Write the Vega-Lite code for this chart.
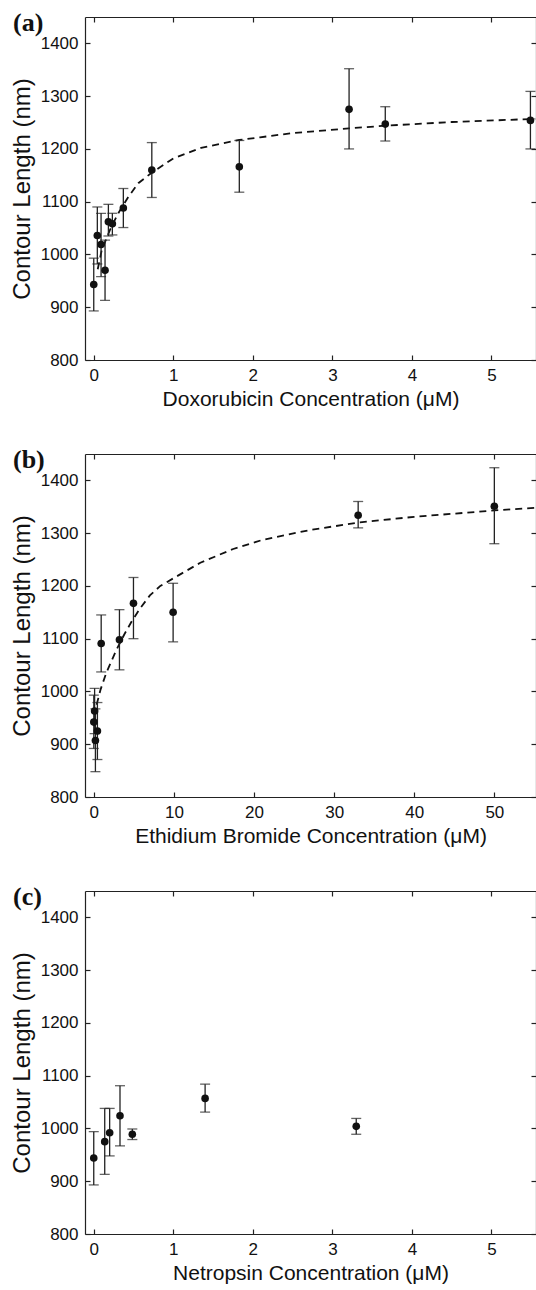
{
  "$schema": "https://vega.github.io/schema/vega-lite/v6.json",
  "background": "white",
  "padding": {"left": 10, "top": 10, "right": 1, "bottom": 5},
  "spacing": 94,
  "bounds": "flush",
  "config": {
    "view": {"stroke": null},
    "axis": {"labelFont": "Liberation Sans", "titleFont": "Liberation Sans", "labelColor": "#111", "titleColor": "#111", "titleFontWeight": "normal", "domainColor": "#222", "tickColor": "#222", "grid": false, "labelFontSize": 17, "titleFontSize": 21, "tickSize": -5, "labelPadding": 12, "domainWidth": 1.2, "tickWidth": 1.2, "format": "d"}
  },
  "datasets": {
    "a": [
      {"c": 0, "L": 943, "lo": 893, "hi": 993},
      {"c": 0.045, "L": 1036, "lo": 982, "hi": 1090},
      {"c": 0.092, "L": 1019, "lo": 958, "hi": 1078},
      {"c": 0.142, "L": 970, "lo": 913, "hi": 1027},
      {"c": 0.184, "L": 1062, "lo": 1035, "hi": 1095},
      {"c": 0.234, "L": 1058, "lo": 1037, "hi": 1078},
      {"c": 0.372, "L": 1088, "lo": 1051, "hi": 1125},
      {"c": 0.73, "L": 1160, "lo": 1108, "hi": 1212},
      {"c": 1.83, "L": 1166, "lo": 1118, "hi": 1216},
      {"c": 3.21, "L": 1275, "lo": 1200, "hi": 1352},
      {"c": 3.665, "L": 1247, "lo": 1215, "hi": 1280},
      {"c": 5.49, "L": 1254, "lo": 1200, "hi": 1309}
    ],
    "aFit": [
      {"c": 0.05, "L": 972}, {"c": 0.1, "L": 1008}, {"c": 0.2, "L": 1045}, {"c": 0.3, "L": 1076},
      {"c": 0.43, "L": 1108}, {"c": 0.56, "L": 1135}, {"c": 0.72, "L": 1154}, {"c": 1.0, "L": 1182},
      {"c": 1.35, "L": 1202}, {"c": 1.83, "L": 1217}, {"c": 2.09, "L": 1222}, {"c": 2.5, "L": 1230},
      {"c": 3.21, "L": 1239}, {"c": 3.665, "L": 1244}, {"c": 4.5, "L": 1251}, {"c": 5.55, "L": 1257}
    ],
    "b": [
      {"c": 0, "L": 942, "lo": 892, "hi": 993},
      {"c": 0.1, "L": 963, "lo": 920, "hi": 1006},
      {"c": 0.2, "L": 907, "lo": 848, "hi": 967},
      {"c": 0.45, "L": 925, "lo": 871, "hi": 979},
      {"c": 0.92, "L": 1091, "lo": 1037, "hi": 1145},
      {"c": 3.2, "L": 1098, "lo": 1041, "hi": 1155},
      {"c": 4.95, "L": 1167, "lo": 1100, "hi": 1216},
      {"c": 9.9, "L": 1150, "lo": 1094, "hi": 1205},
      {"c": 33, "L": 1334, "lo": 1310, "hi": 1360},
      {"c": 50, "L": 1351, "lo": 1280, "hi": 1424}
    ],
    "bFit": [
      {"c": 0.35, "L": 975}, {"c": 0.85, "L": 1004}, {"c": 1.55, "L": 1035}, {"c": 2.8, "L": 1078},
      {"c": 3.8, "L": 1108}, {"c": 4.7, "L": 1132}, {"c": 5.8, "L": 1158}, {"c": 7, "L": 1182},
      {"c": 8.3, "L": 1200}, {"c": 10, "L": 1215}, {"c": 13.3, "L": 1244}, {"c": 17.4, "L": 1270},
      {"c": 21, "L": 1287}, {"c": 27, "L": 1306}, {"c": 33, "L": 1320}, {"c": 40, "L": 1331},
      {"c": 50, "L": 1343}, {"c": 55, "L": 1348}
    ],
    "c": [
      {"c": 0, "L": 944, "lo": 893, "hi": 994},
      {"c": 0.138, "L": 975, "lo": 913, "hi": 1038},
      {"c": 0.2, "L": 992, "lo": 948, "hi": 1038},
      {"c": 0.33, "L": 1024, "lo": 967, "hi": 1081},
      {"c": 0.485, "L": 989, "lo": 979, "hi": 999},
      {"c": 1.4, "L": 1057, "lo": 1031, "hi": 1084},
      {"c": 3.3, "L": 1004, "lo": 989, "hi": 1019}
    ]
  },
  "vconcat": [
    {
      "width": 451, "height": 343,
      "title": {"text": "(a)", "anchor": "start", "frame": "group", "font": "Liberation Serif", "fontWeight": "bold", "fontSize": 26, "color": "#111", "dx": -72, "offset": -20},
      "resolve": {"axis": {"x": "independent", "y": "independent"}},
      "layer": [
        {
          "data": {"name": "aFit"},
          "mark": {"type": "line", "color": "#111", "strokeDash": [7, 5], "strokeWidth": 1.8},
          "encoding": {
            "x": {"field": "c", "type": "quantitative", "scale": {"domain": [-0.11, 5.56], "nice": false, "zero": false}, "axis": {"orient": "bottom", "values": [0, 1, 2, 3, 4, 5], "title": "Doxorubicin Concentration (\u03bcM)", "titlePadding": 5}},
            "y": {"field": "L", "type": "quantitative", "scale": {"domain": [800, 1450], "nice": false, "zero": false}, "axis": {"orient": "left", "values": [800, 900, 1000, 1100, 1200, 1300, 1400], "title": "Contour Length (nm)", "titlePadding": 6, "titleFontSize": 24}}
          }
        },
        {
          "data": {"name": "a"},
          "mark": {"type": "errorbar", "ticks": {"size": 10}, "color": "#222", "thickness": 1.3},
          "encoding": {
            "x": {"field": "c", "type": "quantitative", "axis": null},
            "y": {"field": "lo", "type": "quantitative", "axis": null},
            "y2": {"field": "hi"}
          }
        },
        {
          "data": {"name": "a"},
          "mark": {"type": "point", "filled": true, "color": "#111", "opacity": 1, "size": 58},
          "encoding": {
            "x": {"field": "c", "type": "quantitative", "axis": null},
            "y": {"field": "L", "type": "quantitative", "axis": null}
          }
        },
        {
          "data": {"name": "a"},
          "mark": {"type": "point", "opacity": 0},
          "encoding": {
            "x": {"field": "c", "type": "quantitative", "axis": {"orient": "top", "values": [0, 1, 2, 3, 4, 5], "labels": false, "title": null}},
            "y": {"field": "L", "type": "quantitative", "axis": {"orient": "right", "values": [800, 900, 1000, 1100, 1200, 1300, 1400], "labels": false, "title": null}}
          }
        }
      ]
    },
    {
      "width": 451, "height": 343,
      "title": {"text": "(b)", "anchor": "start", "frame": "group", "font": "Liberation Serif", "fontWeight": "bold", "fontSize": 26, "color": "#111", "dx": -72, "offset": -20},
      "resolve": {"axis": {"x": "independent", "y": "independent"}},
      "layer": [
        {
          "data": {"name": "bFit"},
          "mark": {"type": "line", "color": "#111", "strokeDash": [7, 5], "strokeWidth": 1.8},
          "encoding": {
            "x": {"field": "c", "type": "quantitative", "scale": {"domain": [-1.1, 55.2], "nice": false, "zero": false}, "axis": {"orient": "bottom", "values": [0, 10, 20, 30, 40, 50], "title": "Ethidium Bromide Concentration (\u03bcM)", "titlePadding": 5}},
            "y": {"field": "L", "type": "quantitative", "scale": {"domain": [800, 1450], "nice": false, "zero": false}, "axis": {"orient": "left", "values": [800, 900, 1000, 1100, 1200, 1300, 1400], "title": "Contour Length (nm)", "titlePadding": 6, "titleFontSize": 24}}
          }
        },
        {
          "data": {"name": "b"},
          "mark": {"type": "errorbar", "ticks": {"size": 10}, "color": "#222", "thickness": 1.3},
          "encoding": {
            "x": {"field": "c", "type": "quantitative", "axis": null},
            "y": {"field": "lo", "type": "quantitative", "axis": null},
            "y2": {"field": "hi"}
          }
        },
        {
          "data": {"name": "b"},
          "mark": {"type": "point", "filled": true, "color": "#111", "opacity": 1, "size": 58},
          "encoding": {
            "x": {"field": "c", "type": "quantitative", "axis": null},
            "y": {"field": "L", "type": "quantitative", "axis": null}
          }
        },
        {
          "data": {"name": "b"},
          "mark": {"type": "point", "opacity": 0},
          "encoding": {
            "x": {"field": "c", "type": "quantitative", "axis": {"orient": "top", "values": [0, 10, 20, 30, 40, 50], "labels": false, "title": null}},
            "y": {"field": "L", "type": "quantitative", "axis": {"orient": "right", "values": [800, 900, 1000, 1100, 1200, 1300, 1400], "labels": false, "title": null}}
          }
        }
      ]
    },
    {
      "width": 451, "height": 343,
      "title": {"text": "(c)", "anchor": "start", "frame": "group", "font": "Liberation Serif", "fontWeight": "bold", "fontSize": 26, "color": "#111", "dx": -72, "offset": -20},
      "resolve": {"axis": {"x": "independent", "y": "independent"}},
      "layer": [
        {
          "data": {"name": "c"},
          "mark": {"type": "errorbar", "ticks": {"size": 10}, "color": "#222", "thickness": 1.3},
          "encoding": {
            "x": {"field": "c", "type": "quantitative", "scale": {"domain": [-0.11, 5.56], "nice": false, "zero": false}, "axis": {"orient": "bottom", "values": [0, 1, 2, 3, 4, 5], "title": "Netropsin Concentration  (\u03bcM)", "titlePadding": 5}},
            "y": {"field": "lo", "type": "quantitative", "scale": {"domain": [800, 1450], "nice": false, "zero": false}, "axis": {"orient": "left", "values": [800, 900, 1000, 1100, 1200, 1300, 1400], "title": "Contour Length (nm)", "titlePadding": 6, "titleFontSize": 24}},
            "y2": {"field": "hi"}
          }
        },
        {
          "data": {"name": "c"},
          "mark": {"type": "point", "filled": true, "color": "#111", "opacity": 1, "size": 58},
          "encoding": {
            "x": {"field": "c", "type": "quantitative", "axis": null},
            "y": {"field": "L", "type": "quantitative", "axis": null}
          }
        },
        {
          "data": {"name": "c"},
          "mark": {"type": "point", "opacity": 0},
          "encoding": {
            "x": {"field": "c", "type": "quantitative", "axis": {"orient": "top", "values": [0, 1, 2, 3, 4, 5], "labels": false, "title": null}},
            "y": {"field": "L", "type": "quantitative", "axis": {"orient": "right", "values": [800, 900, 1000, 1100, 1200, 1300, 1400], "labels": false, "title": null}}
          }
        }
      ]
    }
  ]
}
